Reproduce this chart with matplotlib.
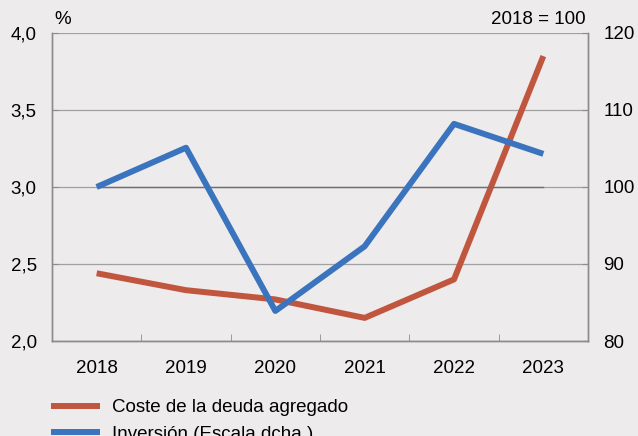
import matplotlib
matplotlib.use('Agg')
import matplotlib.pyplot as plt

# Datos
years = ['2018', '2019', '2020', '2021', '2022', '2023']
coste_deuda = [2.44, 2.33, 2.27, 2.15, 2.40, 3.85]    # %
inversion = [100.0, 105.1, 83.9, 92.3, 108.2, 104.3]  # 2018 = 100

left_ticks = [2.0, 2.5, 3.0, 3.5, 4.0]
left_labels = ['2,0', '2,5', '3,0', '3,5', '4,0']
right_ticks = [80, 90, 100, 110, 120]

bg = '#EEEBEC'
red = '#C1563F'
blue = '#3B74BE'
grey = '#8C8C8C'
fs = 13.5

plt.rcParams['font.family'] = ['Liberation Sans', 'DejaVu Sans']
plt.rcParams['font.size'] = fs

fig = plt.figure(figsize=(6.38, 4.36), dpi=100, facecolor=bg)
ax = fig.add_axes([52/638, 95/436, 536/638, 308/436])
ax.set_facecolor(bg)
ax2 = ax.twinx()

x = list(range(len(years)))

ax.set_xlim(-0.5, len(years) - 0.5)
ax.set_ylim(2.0, 4.0)
ax2.set_ylim(80, 120)

for t in left_ticks:
    ax.axhline(t, color='#A0A0A0', lw=0.9, zorder=1)
ax2.plot(x, [100] * len(x), color='#6E6E6E', lw=1.0, zorder=2)

ax.plot(x, coste_deuda, color=red, lw=4.3, solid_capstyle='butt', zorder=3,
        label='Coste de la deuda agregado')
ax2.plot(x, inversion, color=blue, lw=4.3, solid_capstyle='butt', zorder=3,
         label='Inversión (Escala dcha.)')

ax.set_yticks(left_ticks)
ax.set_yticklabels(left_labels)
ax2.set_yticks(right_ticks)
ax.set_xticks(x)
ax.set_xticklabels(years)
ax.set_xticks([i + 0.5 for i in range(len(years) - 1)], minor=True)

ax.tick_params(axis='x', which='major', length=0, pad=14, labelsize=fs)
ax.tick_params(axis='x', which='minor', direction='in', length=5, color=grey)
ax.tick_params(axis='y', direction='in', length=4, color=grey, pad=11, labelsize=fs)
ax2.tick_params(axis='y', direction='in', length=4, color=grey, pad=11, labelsize=fs)

for a in (ax, ax2):
    a.spines['top'].set_visible(False)
    for s in ('left', 'right', 'bottom'):
        a.spines[s].set_color(grey)
        a.spines[s].set_linewidth(1.0)

fig.text(54/638, 1 - 19/436, '%', fontsize=fs, va='center', ha='left')
fig.text(586/638, 1 - 20/436, '2018 = 100', fontsize=fs, va='center', ha='right')

h1, l1 = ax.get_legend_handles_labels()
h2, l2 = ax2.get_legend_handles_labels()
fig.legend(h1 + h2, l1 + l2, loc='upper left', bbox_to_anchor=(51/638, 1 - 399/436),
           frameon=False, fontsize=fs, handlelength=2.6, handletextpad=0.65,
           labelspacing=0.5, borderaxespad=0, borderpad=0)

fig.savefig('out.png', dpi=100, facecolor=bg)
